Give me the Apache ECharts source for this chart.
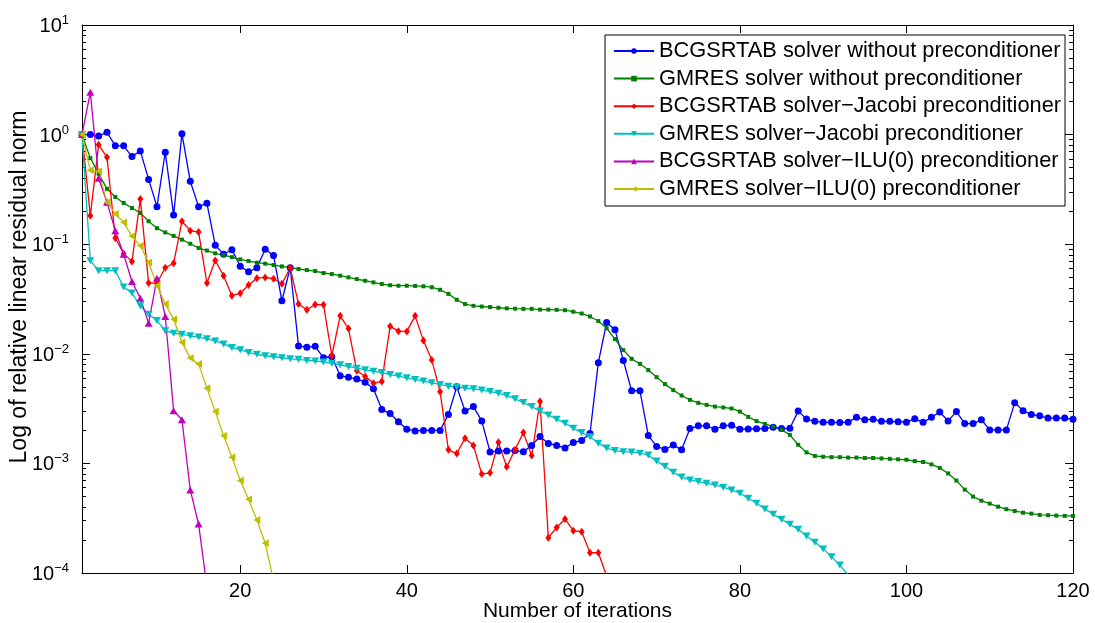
<!DOCTYPE html>
<html>
<head>
<meta charset="utf-8">
<script src="https://cdn.jsdelivr.net/npm/echarts@6/dist/echarts.min.js"></script>
<style>
  html, body { margin: 0; padding: 0; background: #fff; }
  #chart { width: 1095px; height: 623px; }
</style>
</head>
<body>
<div id="chart"></div>
<script>
// Relative residual norm per iteration for each solver / preconditioner pair
const seriesNames = [
  'BCGSRTAB solver without preconditioner',
  'GMRES solver without preconditioner',
  'BCGSRTAB solver\u2212Jacobi preconditioner',
  'GMRES solver\u2212Jacobi preconditioner',
  'BCGSRTAB solver\u2212ILU(0) preconditioner',
  'GMRES solver\u2212ILU(0) preconditioner'
];

const bcgsrtabPlain = [
  1.0, 1.0, 0.97, 1.05, 0.79, 0.79, 0.63, 0.71, 0.39, 0.22,
  0.69, 0.185, 1.02, 0.375, 0.22, 0.236, 0.098, 0.081, 0.089, 0.063,
  0.056, 0.061, 0.090, 0.079, 0.0305, 0.061, 0.0118, 0.0115, 0.0117, 0.0092,
  0.0094, 0.0063, 0.0061, 0.0059, 0.0055, 0.0048, 0.0031, 0.00285, 0.0024, 0.00205,
  0.00198, 0.0020, 0.0020, 0.0020, 0.0028, 0.0050, 0.0030, 0.0033, 0.00244, 0.00127,
  0.0013, 0.0013, 0.00131, 0.00128, 0.00146, 0.00176, 0.00152, 0.00146, 0.00138, 0.00155,
  0.00162, 0.00187, 0.0083, 0.0193, 0.0166, 0.0087, 0.0046, 0.0046, 0.0018, 0.00143,
  0.00134, 0.00147, 0.00133, 0.00208, 0.0022, 0.0022, 0.00205, 0.0022, 0.00223, 0.00205,
  0.00206, 0.00207, 0.00208, 0.00214, 0.00208, 0.00209, 0.0030, 0.00254, 0.00242, 0.00237,
  0.00237, 0.00236, 0.00238, 0.00263, 0.0025, 0.00253, 0.00242, 0.00242, 0.0024, 0.00238,
  0.00255, 0.00237, 0.00263, 0.00294, 0.00244, 0.00297, 0.00231, 0.00231, 0.0025, 0.00202,
  0.00202, 0.00202, 0.00357, 0.00303, 0.00279, 0.00272, 0.00259, 0.00259, 0.00259, 0.00253
];

const gmresPlain = [
  1.0, 0.61, 0.44, 0.32, 0.27, 0.238, 0.214, 0.193, 0.162, 0.14,
  0.128, 0.119, 0.110, 0.101, 0.0925, 0.0875, 0.0826, 0.0796, 0.0762, 0.0727,
  0.0702, 0.0678, 0.0664, 0.0646, 0.0627, 0.061, 0.0594, 0.0581, 0.0569, 0.0546,
  0.0534, 0.0516, 0.0498, 0.0481, 0.0464, 0.0448, 0.0433, 0.0422, 0.0418, 0.0418,
  0.0416, 0.0413, 0.0405, 0.0384, 0.0352, 0.0311, 0.0284, 0.0274, 0.027, 0.0267,
  0.0263, 0.026, 0.0258, 0.0257, 0.0257, 0.0253, 0.0253, 0.0252, 0.025, 0.0242,
  0.0233, 0.0219, 0.0199, 0.0171, 0.0136, 0.0108, 0.009, 0.0081, 0.0071, 0.00612,
  0.00529, 0.00466, 0.00416, 0.0038, 0.00357, 0.00342, 0.0033, 0.00324, 0.00317, 0.00297,
  0.00266, 0.00243, 0.00229, 0.00217, 0.00203, 0.00182, 0.00148, 0.00126, 0.00117, 0.00115,
  0.00114, 0.00114, 0.00113, 0.00113, 0.00112, 0.00112, 0.00111, 0.0011, 0.00109, 0.00108,
  0.00105, 0.00103, 0.00098, 0.00091, 0.00081, 0.000697, 0.000577, 0.000498, 0.000457, 0.00043,
  0.000403, 0.000382, 0.000368, 0.000355, 0.000348, 0.000339, 0.000337, 0.000334, 0.000332, 0.000332
];

const bcgsrtabJacobi = [
  1.0, 0.182, 0.81, 0.62, 0.114, 0.082, 0.0697, 0.258, 0.0442, 0.0442,
  0.061, 0.067, 0.162, 0.133, 0.129, 0.0442, 0.0711, 0.0516, 0.0339, 0.0357,
  0.0424, 0.049, 0.0498, 0.0484, 0.0436, 0.0607, 0.0285, 0.0252, 0.0282, 0.028,
  0.0096, 0.0222, 0.017, 0.007, 0.0062, 0.0054, 0.0056, 0.0178, 0.0161, 0.016,
  0.0222, 0.0132, 0.0088, 0.0045, 0.00133, 0.00123, 0.0017, 0.00146, 0.0008, 0.00082,
  0.00156, 0.00093, 0.00133, 0.00191, 0.00118, 0.00367, 0.00021, 0.00026, 0.000311, 0.000243,
  0.000238, 0.000153, 0.000153, 0.000094
];

const gmresJacobi = [
  1.0, 0.0707, 0.0573, 0.0573, 0.0573, 0.0406, 0.0358, 0.0274, 0.023, 0.0201,
  0.0162, 0.0154, 0.0151, 0.0146, 0.0142, 0.0137, 0.0131, 0.0123, 0.0114, 0.0109,
  0.0103, 0.0099, 0.0096, 0.0094, 0.0092, 0.009, 0.0089, 0.0087, 0.0086, 0.0084,
  0.0082, 0.00793, 0.00766, 0.0074, 0.00714, 0.00694, 0.00675, 0.00647, 0.00626, 0.00604,
  0.00583, 0.00564, 0.00544, 0.00525, 0.00507, 0.00496, 0.00486, 0.00479, 0.00468, 0.00453,
  0.00437, 0.00416, 0.00388, 0.00359, 0.0033, 0.00301, 0.00277, 0.00253, 0.00233, 0.00209,
  0.00191, 0.00175, 0.00153, 0.00138, 0.00131, 0.00128, 0.00127, 0.00124, 0.00119, 0.00105,
  0.00094, 0.00083, 0.00075, 0.000707, 0.000683, 0.000659, 0.000636, 0.000606, 0.000573, 0.000534,
  0.000481, 0.000433, 0.000384, 0.000343, 0.000309, 0.000278, 0.000251, 0.000218, 0.000191, 0.000166,
  0.000141, 0.000118, 0.000096
];

const bcgsrtabIlu = [
  1.0, 2.43, 0.40, 0.241, 0.133, 0.081, 0.0457, 0.0322, 0.019, 0.049,
  0.0219, 0.00303, 0.0025, 0.000573, 0.00028, 0.000075
];

const gmresIlu = [
  1.0, 0.472, 0.462, 0.241, 0.189, 0.158, 0.118, 0.097, 0.0682, 0.042,
  0.0284, 0.0207, 0.0127, 0.00914, 0.00805, 0.00486, 0.00297, 0.00179, 0.00114, 0.000697,
  0.000471, 0.000305, 0.000187, 0.000085
];

const xTickValues = [20, 40, 60, 80, 100, 120];
const yMajorValues = [1e-4, 1e-3, 1e-2, 1e-1, 1, 10];
const yMinorValues = [];
for (let e = -4; e <= 0; e++) {
  for (let m = 2; m <= 9; m++) yMinorValues.push(m * Math.pow(10, e));
}

const FONT = '"Liberation Sans", Arial, Helvetica, sans-serif';

const styles = [
  { color: '#0000ff', symbol: 'circle', size: 7, rotate: 0 },
  { color: '#008000', symbol: 'rect', size: 4, rotate: 0 },
  { color: '#ff0000', symbol: 'diamond', size: [6, 8], rotate: 0 },
  { color: '#00bfbf', symbol: 'triangle', size: [8, 7], rotate: 180 },
  { color: '#bf00bf', symbol: 'triangle', size: [8, 7], rotate: 0 },
  { color: '#bfbf00', symbol: 'triangle', size: [8, 7], rotate: 90 }
];
const values = [bcgsrtabPlain, gmresPlain, bcgsrtabJacobi, gmresJacobi, bcgsrtabIlu, gmresIlu];

function toPairs(arr) {
  return arr.map((v, i) => [i + 1, v]);
}

function expLabel(v) {
  const e = Math.round(Math.log10(v));
  const s = e < 0 ? '\u2212' + (-e) : String(e);
  return '{b|10}{e|' + s + '}';
}

const axisLineStyle = { color: '#000', width: 1 };

const chart = echarts.init(document.getElementById('chart'), null, { renderer: 'canvas' });

chart.setOption({
  animation: false,
  backgroundColor: '#fff',
  grid: { left: 82, right: 22, top: 25, bottom: 50, containLabel: false, outerBoundsMode: 'none' },
  legend: {
    data: seriesNames,
    orient: 'vertical',
    left: 605,
    top: 35,
    padding: [5, 4, 6, 8],
    itemWidth: 40,
    itemHeight: 7,
    itemGap: 5.6,
    borderColor: '#000',
    borderWidth: 1,
    backgroundColor: '#fff',
    textStyle: { fontFamily: FONT, fontSize: 21.8, lineHeight: 22, color: '#000' }
  },
  xAxis: [
    {
      type: 'value', min: 1, max: 120, position: 'bottom',
      name: 'Number of iterations', nameLocation: 'middle', nameGap: 28, nameMoveOverlap: false,
      nameTextStyle: { fontFamily: FONT, fontSize: 21, color: '#000' },
      axisLine: { show: true, lineStyle: axisLineStyle },
      axisTick: { show: true, inside: true, length: 8, lineStyle: axisLineStyle, customValues: xTickValues },
      axisLabel: { show: true, margin: 8, fontFamily: FONT, fontSize: 20, color: '#000', customValues: xTickValues },
      splitLine: { show: false }
    },
    {
      type: 'value', min: 1, max: 120, position: 'top',
      axisLine: { show: true, lineStyle: axisLineStyle },
      axisTick: { show: true, inside: true, length: 8, lineStyle: axisLineStyle, customValues: xTickValues },
      axisLabel: { show: false },
      splitLine: { show: false }
    }
  ],
  yAxis: [
    {
      type: 'log', logBase: 10, min: 1e-4, max: 10, position: 'left',
      name: 'Log of relative linear residual norm', nameLocation: 'middle', nameGap: 51, nameMoveOverlap: false,
      nameTextStyle: { fontFamily: FONT, fontSize: 23, color: '#000', padding: [0, 0, 0, 24] },
      axisLine: { show: true, lineStyle: axisLineStyle },
      axisTick: { show: true, inside: true, length: 8, lineStyle: axisLineStyle, customValues: yMajorValues },
      axisLabel: {
        show: true, margin: 13, formatter: expLabel, customValues: yMajorValues,
        rich: {
          b: { fontFamily: FONT, fontSize: 20, color: '#000', lineHeight: 22, padding: [3, 0, 0, 0] },
          e: { fontFamily: FONT, fontSize: 13, color: '#000', lineHeight: 8, verticalAlign: 'top' }
        }
      },
      splitLine: { show: false }
    },
    {
      type: 'log', logBase: 10, min: 1e-4, max: 10, position: 'left',
      axisLine: { show: false },
      axisTick: { show: true, inside: true, length: 4, lineStyle: axisLineStyle, customValues: yMinorValues },
      axisLabel: { show: false },
      splitLine: { show: false }
    },
    {
      type: 'log', logBase: 10, min: 1e-4, max: 10, position: 'right',
      axisLine: { show: true, lineStyle: axisLineStyle },
      axisTick: { show: true, inside: true, length: 8, lineStyle: axisLineStyle, customValues: yMajorValues },
      axisLabel: { show: false },
      splitLine: { show: false }
    },
    {
      type: 'log', logBase: 10, min: 1e-4, max: 10, position: 'right',
      axisLine: { show: false },
      axisTick: { show: true, inside: true, length: 4, lineStyle: axisLineStyle, customValues: yMinorValues },
      axisLabel: { show: false },
      splitLine: { show: false }
    }
  ],
  series: seriesNames.map((name, i) => ({
    name: name,
    type: 'line',
    xAxisIndex: 0,
    yAxisIndex: 0,
    data: toPairs(values[i]),
    symbol: styles[i].symbol,
    symbolSize: styles[i].size,
    symbolRotate: styles[i].rotate,
    showAllSymbol: true,
    clip: true,
    lineStyle: { color: styles[i].color, width: 1.3 },
    itemStyle: { color: styles[i].color },
    emphasis: { disabled: true }
  }))
});
</script>
</body>
</html>
